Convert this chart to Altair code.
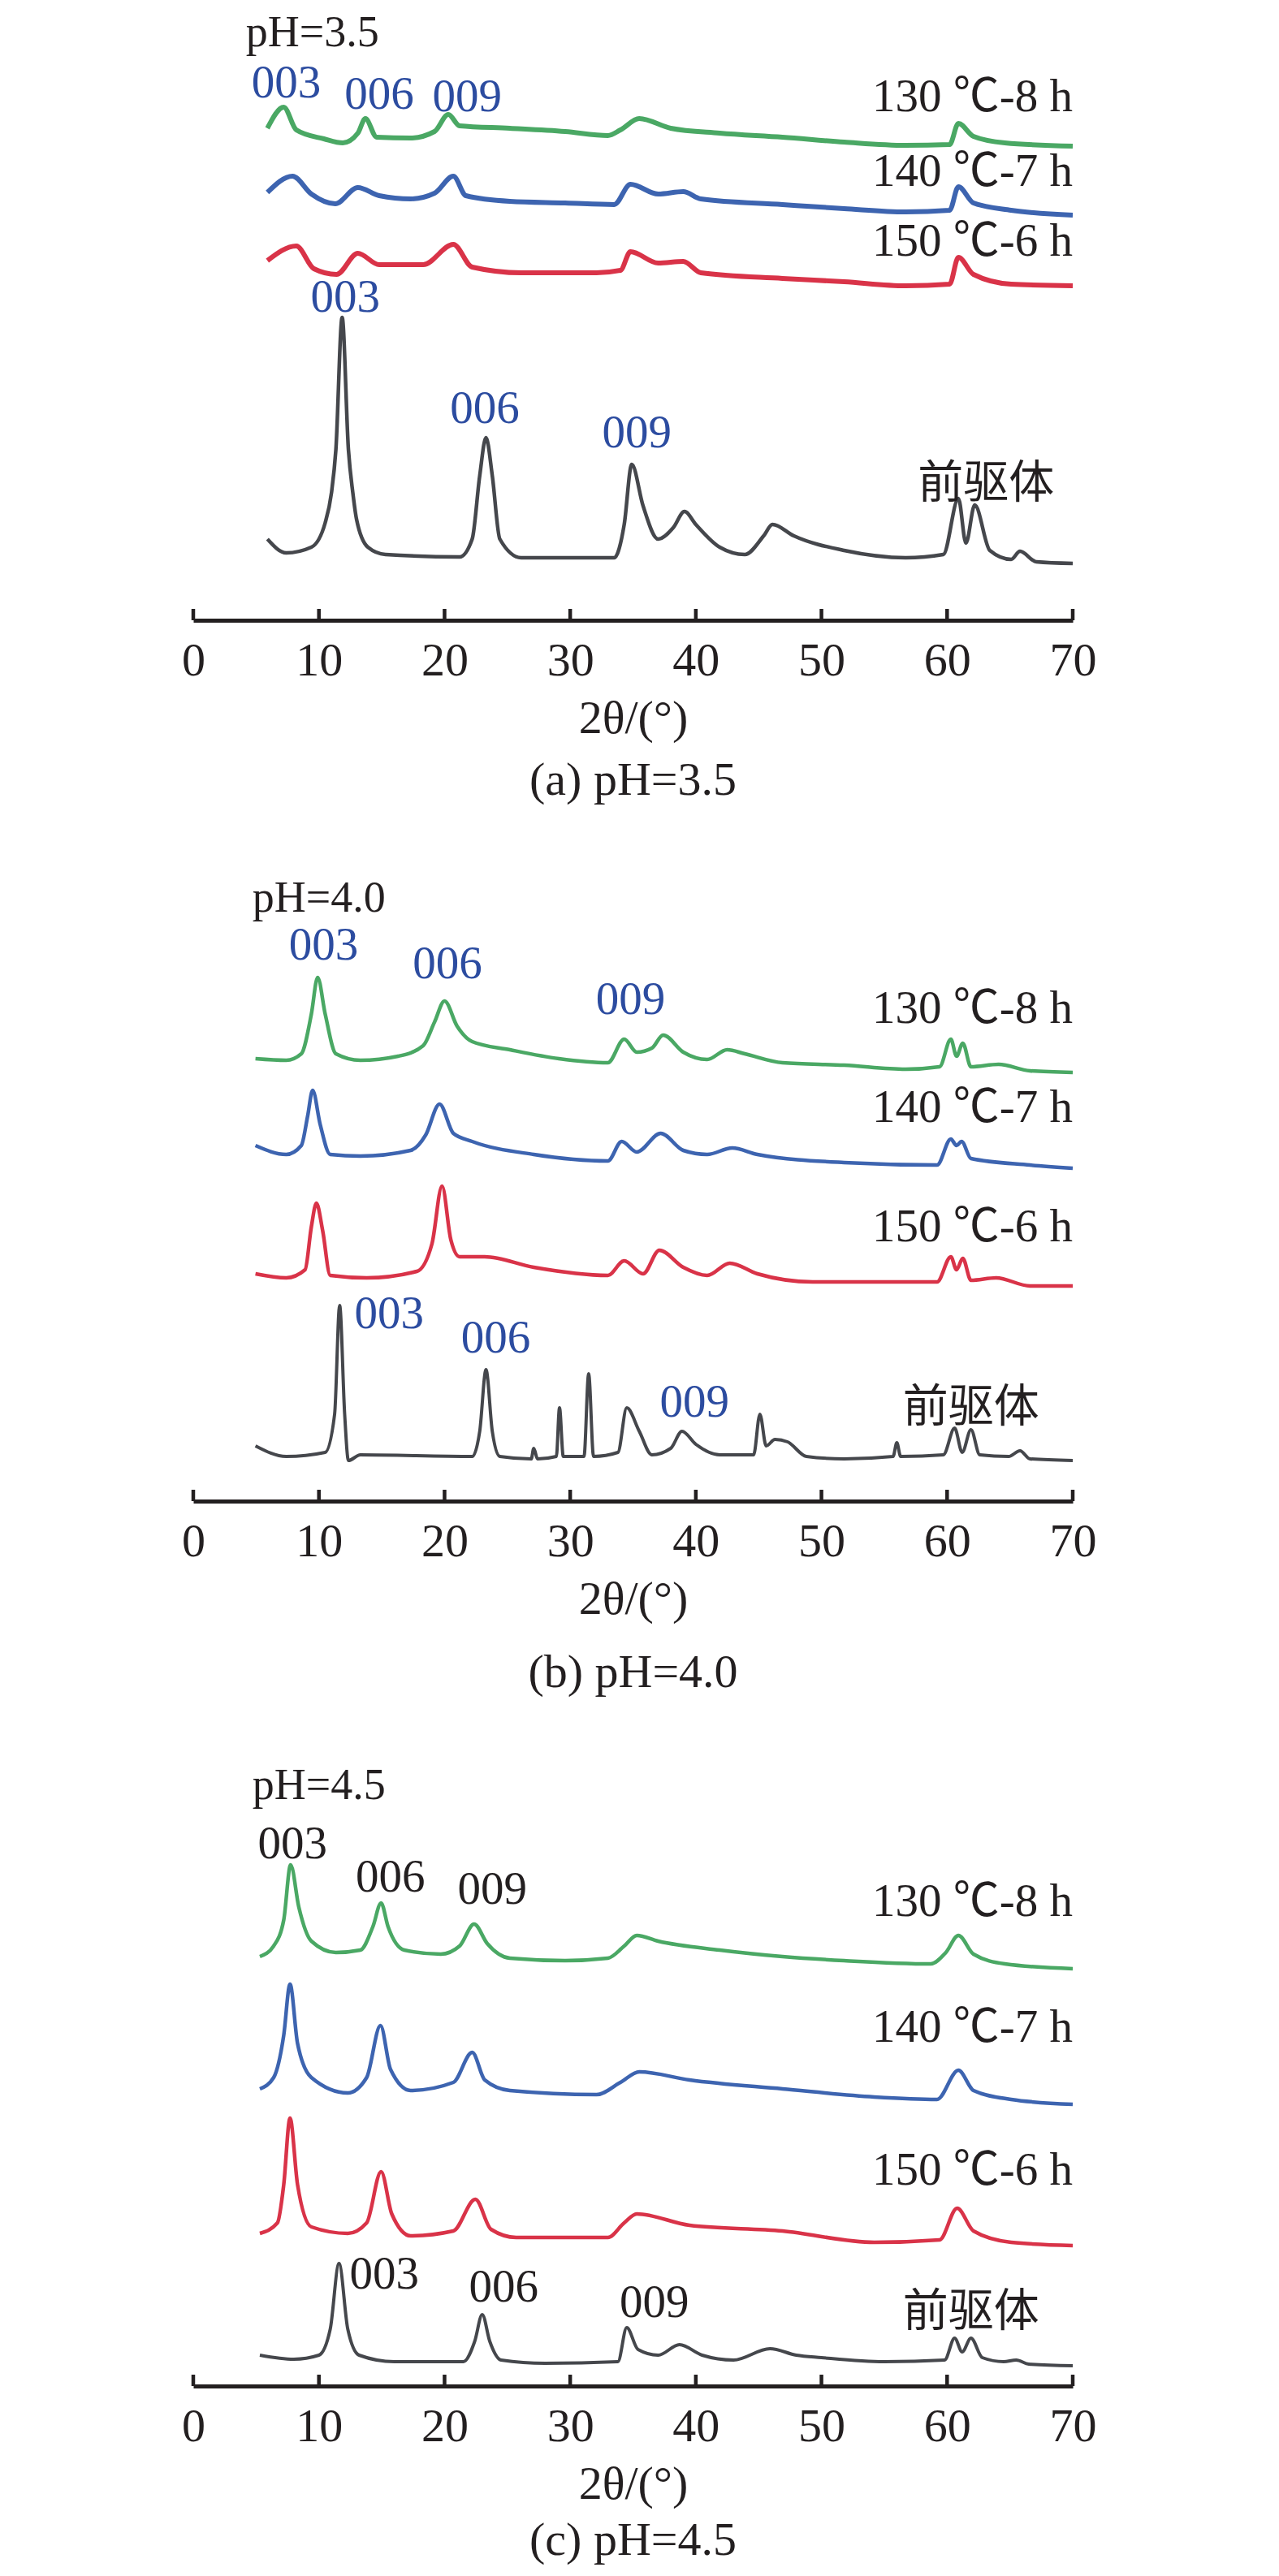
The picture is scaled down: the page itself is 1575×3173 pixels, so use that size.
import altair as alt
import pandas as pd

X_TICKS = [0, 10, 20, 30, 40, 50, 60, 70]
SERIES_NAMES = ["130", "140", "150", "pre"]

# ---------------- panel (a) pH=3.5 : (2theta, intensity a.u.) ----------------
A_130 = [(5.9, 606), (7.2, 632), (8.2, 604), (10.4, 593), (11.9, 588), (13.1, 600), (13.7, 618),
         (14.6, 595), (17.3, 594), (19.2, 602), (20.3, 623), (21.2, 609), (25.2, 606), (29.6, 602),
         (33.0, 597), (34.0, 604), (35.5, 618), (38.0, 606), (41.9, 600), (46.9, 595), (51.8, 589),
         (56.7, 585), (60.2, 586), (60.9, 612), (62.1, 596), (64.6, 588), (70.0, 584)]
A_140 = [(5.9, 527), (7.9, 547), (9.4, 525), (11.3, 513), (13.1, 533), (14.8, 523), (17.3, 519),
         (19.2, 526), (20.7, 547), (21.7, 523), (25.2, 516), (29.6, 514), (33.5, 512), (34.8, 537),
         (37.0, 525), (39.0, 528), (40.4, 519), (46.9, 512), (51.8, 507), (56.7, 503), (60.2, 505),
         (60.9, 534), (62.1, 514), (65.1, 505), (70.0, 499)]
A_150 = [(5.9, 443), (8.2, 461), (9.6, 433), (11.4, 426), (13.1, 452), (14.8, 438), (18.3, 438),
         (20.7, 463), (22.2, 435), (26.1, 428), (32.1, 428), (34.0, 431), (34.8, 454), (37.0, 440),
         (39.0, 442), (40.4, 428), (46.9, 421), (51.8, 417), (56.7, 412), (60.2, 414), (60.9, 447),
         (62.1, 426), (65.1, 414), (70.0, 412)]
A_PRE = [(5.9, 100), (7.4, 83), (9.4, 90), (10.5, 120), (11.0, 157), (11.35, 210), (11.85, 373),
         (12.35, 210), (12.7, 157), (13.0, 124), (13.9, 90), (15.3, 81), (21.2, 78), (22.2, 100),
         (22.8, 178), (23.3, 225), (23.8, 178), (24.4, 100), (26.1, 77), (33.5, 77), (34.3, 118),
         (34.9, 192), (35.8, 141), (37.0, 100), (38.2, 114), (39.1, 134), (40.0, 118), (41.9, 90),
         (43.9, 81), (45.4, 104), (46.1, 118), (47.8, 104), (51.8, 86), (56.7, 77), (59.7, 81),
         (60.9, 150), (61.5, 95), (62.2, 142), (63.4, 86), (65.1, 75), (65.8, 85), (67.1, 72),
         (70.0, 70)]

# ---------------- panel (b) pH=4.0 ----------------
B_130 = [(4.95, 545), (7.4, 543), (8.6, 551), (9.4, 600), (9.9, 645), (10.5, 600), (11.35, 551),
         (13.3, 543), (16.3, 548), (18.3, 561), (19.2, 590), (20.0, 616), (21.0, 585), (22.2, 566),
         (25.2, 556), (29.1, 545), (33.0, 540), (34.3, 569), (35.3, 553), (36.5, 558), (37.4, 574),
         (39.0, 553), (40.9, 544), (42.5, 556), (43.9, 551), (46.9, 540), (51.8, 537), (56.7, 532),
         (59.4, 535), (60.3, 569), (60.75, 548), (61.25, 564), (61.9, 535), (64.1, 538), (66.6, 530),
         (70.0, 528)]
B_140 = [(4.95, 438), (7.4, 427), (8.6, 438), (9.1, 474), (9.5, 506), (10.1, 464), (10.9, 427),
         (13.3, 425), (17.3, 432), (18.5, 451), (19.6, 489), (20.7, 453), (22.2, 443), (27.1, 427),
         (33.0, 419), (34.1, 443), (35.3, 430), (37.2, 453), (39.0, 432), (40.9, 427), (42.9, 435),
         (44.9, 427), (51.8, 417), (59.2, 414), (60.3, 446), (60.75, 438), (61.15, 443), (61.9, 422),
         (66.6, 414), (70.0, 410)]
B_150 = [(4.95, 280), (7.4, 275), (8.9, 285), (9.4, 338), (9.8, 367), (10.3, 333), (10.9, 278),
         (13.8, 275), (17.8, 283), (19.0, 317), (19.8, 388), (20.5, 322), (21.2, 301), (23.2, 301),
         (27.1, 288), (33.0, 278), (34.3, 296), (35.8, 280), (37.1, 309), (39.0, 288), (40.9, 278),
         (42.7, 293), (44.9, 280), (49.3, 270), (59.2, 270), (60.3, 301), (60.75, 285), (61.25, 299),
         (61.9, 272), (63.9, 275), (66.6, 265), (70.0, 265)]
B_PRE = [(4.95, 68), (7.4, 55), (10.5, 60), (11.25, 107), (11.65, 241), (12.05, 107), (12.35, 50),
         (13.3, 57), (22.2, 55), (22.8, 86), (23.3, 162), (23.8, 86), (24.4, 55), (26.9, 52),
         (27.1, 65), (27.4, 52), (28.9, 55), (29.15, 115), (29.45, 55), (31.1, 55), (31.47, 157),
         (31.86, 55), (33.8, 60), (34.5, 115), (35.5, 86), (36.5, 57), (38.0, 65), (38.9, 86),
         (40.0, 70), (41.9, 57), (44.6, 57), (45.1, 107), (45.6, 68), (46.3, 76), (47.3, 73),
         (48.8, 55), (51.8, 52), (55.7, 55), (56.0, 72), (56.3, 55), (59.7, 57), (60.6, 90),
         (61.2, 60), (61.9, 88), (62.6, 57), (64.9, 55), (65.8, 62), (66.6, 52), (70.0, 50)]

# ---------------- panel (c) pH=4.5 ----------------
C_130 = [(5.3, 529), (6.4, 542), (7.2, 574), (7.75, 642), (8.4, 590), (9.4, 548), (11.35, 534),
         (13.3, 537), (14.3, 566), (14.95, 595), (15.5, 566), (16.8, 537), (19.7, 532), (21.2, 542),
         (22.35, 569), (23.4, 545), (25.2, 527), (29.6, 524), (33.0, 527), (34.3, 542), (35.3, 555),
         (37.0, 548), (41.9, 537), (46.9, 529), (51.8, 524), (58.7, 520), (59.9, 534), (60.9, 555),
         (62.1, 532), (64.6, 520), (70.0, 514)]
C_140 = [(5.3, 366), (6.4, 380), (7.2, 432), (7.7, 495), (8.3, 422), (9.4, 380), (12.3, 361),
         (13.8, 380), (14.9, 444), (15.7, 390), (17.3, 364), (20.7, 374), (22.2, 411), (23.2, 377),
         (25.2, 364), (32.1, 359), (34.0, 374), (35.5, 387), (39.5, 377), (46.9, 366), (54.2, 356),
         (59.2, 353), (60.9, 389), (62.1, 364), (65.1, 353), (70.0, 347)]
C_150 = [(5.3, 188), (6.7, 201), (7.2, 248), (7.7, 330), (8.3, 248), (9.4, 196), (12.3, 188),
         (13.8, 201), (14.95, 264), (15.8, 212), (17.3, 185), (20.7, 191), (22.45, 230), (23.7, 193),
         (25.7, 183), (33.0, 183), (34.3, 201), (35.3, 212), (39.5, 198), (46.9, 191), (54.2, 177),
         (59.4, 180), (60.8, 219), (62.1, 191), (65.1, 177), (70.0, 173)]
C_PRE = [(5.3, 38), (8.0, 33), (10.0, 38), (10.9, 70), (11.6, 151), (12.3, 70), (13.2, 38),
         (16.0, 30), (21.5, 30), (22.4, 55), (23.0, 88), (23.6, 55), (24.5, 32), (28.0, 28),
         (33.8, 30), (34.5, 72), (35.4, 45), (37.0, 38), (38.7, 51), (40.5, 38), (43.0, 32),
         (45.9, 46), (48.0, 38), (50.0, 35), (55.0, 30), (59.8, 32), (60.6, 59), (61.2, 42),
         (61.9, 59), (62.8, 35), (64.5, 30), (65.5, 32), (66.5, 27), (70.0, 25)]

# ---------------- text labels: (text, 2theta, intensity, align, colour key) ----------------
A_LABELS = [("pH=3.5", 4.19, 707, "left", "k"), ("003", 7.4, 644, "center", "b"),
            ("006", 14.8, 630, "center", "b"), ("009", 21.8, 627, "center", "b"),
            ("130 ℃-8 h", 70, 627, "right", "k"), ("140 ℃-7 h", 70, 535, "right", "k"),
            ("150 ℃-6 h", 70, 449, "right", "k"), ("003", 12.1, 380, "center", "b"),
            ("006", 23.2, 243, "center", "b"), ("009", 35.3, 213, "center", "b"),
            ("前驱体", 63.1, 151, "cjk", "k")]
B_LABELS = [("pH=4.0", 4.7, 726, "left", "k"), ("003", 10.37, 667, "center", "b"),
            ("006", 20.23, 644, "center", "b"), ("009", 34.8, 600, "center", "b"),
            ("130 ℃-8 h", 70, 589, "right", "k"), ("140 ℃-7 h", 70, 467, "right", "k"),
            ("150 ℃-6 h", 70, 320, "right", "k"), ("003", 15.6, 213, "center", "b"),
            ("006", 24.07, 183, "center", "b"), ("009", 39.9, 104, "center", "b"),
            ("前驱体", 61.9, 98, "cjk", "k")]
C_LABELS = [("pH=4.5", 4.7, 723, "left", "k"), ("003", 7.9, 650, "center", "k"),
            ("006", 15.69, 609, "center", "k"), ("009", 23.8, 594, "center", "k"),
            ("130 ℃-8 h", 70, 579, "right", "k"), ("140 ℃-7 h", 70, 424, "right", "k"),
            ("150 ℃-6 h", 70, 248, "right", "k"), ("003", 15.2, 120, "center", "k"),
            ("006", 24.7, 104, "center", "k"), ("009", 36.7, 85, "center", "k"),
            ("前驱体", 61.9, 74, "cjk", "k")]

CAPTIONS = ["(a) pH=3.5", "(b) pH=4.0", "(c) pH=4.5"]

# ---------------- styling ----------------
COLORS = {"130": "#4aa864", "140": "#3d64b0", "150": "#d93348", "pre": "#45474c"}
TEXT_COLORS = {"k": "#231f20", "b": "#2c4ca0"}
SERIF = "Liberation Serif, Noto Sans CJK SC"
CJK = "Noto Sans CJK SC"
BLACK = "#231f20"
W = 1083


def panel(series, labels, height, caption, widths, cap_offset):
    rows = []
    for name, pts in zip(SERIES_NAMES, series):
        for tt, val in pts:
            rows.append({"tt": tt, "I": val, "s": name, "w": widths[name]})
    df = pd.DataFrame(rows)

    x = alt.X("tt:Q",
              scale=alt.Scale(domain=[0, 70], nice=False, zero=False),
              axis=alt.Axis(values=X_TICKS, format="d", title="2θ/(°)", ticks=False, tickSize=0,
                            grid=False, domainColor=BLACK, domainWidth=5,
                            labelFont=SERIF, labelFontSize=58, labelColor=BLACK,
                            labelPadding=21, labelFlush=False, labelOverlap=False,
                            titleFont=SERIF, titleFontSize=58, titleFontWeight="normal",
                            titleColor=BLACK, titleY=138, titleBaseline="alphabetic"))
    y = alt.Y("I:Q", scale=alt.Scale(domain=[0, height], nice=False, zero=False), axis=None)

    lines = alt.Chart(df).mark_line(interpolate="monotone", strokeJoin="round").encode(
        x=x, y=y,
        color=alt.Color("s:N", scale=alt.Scale(domain=SERIES_NAMES,
                                               range=[COLORS[n] for n in SERIES_NAMES]),
                        legend=None),
        strokeWidth=alt.StrokeWidth("w:Q", scale=None),
    )

    ticks = alt.Chart(pd.DataFrame({"tt": X_TICKS})).mark_rule(
        color=BLACK, strokeWidth=4.5).encode(
        x=x, y=alt.value(height), y2=alt.value(height - 14))

    ldf = pd.DataFrame([{"t": t, "tt": a, "I": b, "al": al, "c": TEXT_COLORS[c]}
                        for t, a, b, al, c in labels])
    layers = [lines, ticks]
    for al in ["left", "center", "right", "cjk"]:
        sub = ldf[ldf["al"] == al]
        if sub.empty:
            continue
        layers.append(alt.Chart(sub).mark_text(
            align="center" if al == "cjk" else al,
            baseline="alphabetic",
            font=CJK if al == "cjk" else SERIF,
            fontSize=56 if al == "cjk" else (54 if al == "left" else 57),
        ).encode(x=x, y=y, text="t:N", color=alt.Color("c:N", scale=None)))

    return alt.layer(*layers).properties(
        width=W, height=height,
        title=alt.TitleParams(text=caption, orient="bottom", offset=cap_offset, fontSize=58,
                              font=SERIF, fontWeight="normal", color=BLACK, anchor="middle"),
    )


w_a = {"130": 6, "140": 6, "150": 6, "pre": 4.5}
w_bc = {"130": 4.5, "140": 4.5, "150": 4.5, "pre": 4}

pa = panel([A_130, A_140, A_150, A_PRE], A_LABELS, 743, CAPTIONS[0], w_a, 19)
pb = panel([B_130, B_140, B_150, B_PRE], B_LABELS, 785, CAPTIONS[1], w_bc, 33)
pc = panel([C_130, C_140, C_150, C_PRE], C_LABELS, 790, CAPTIONS[2], w_bc, 12)

chart = alt.vconcat(pa, pb, pc, spacing=300, bounds="flush").properties(
    padding={"left": 215, "top": 6, "right": 20, "bottom": 10},
    background="white",
).configure_view(stroke=None, fill="white")

chart.save("out.html", embed_options={"renderer": "svg", "actions": False})
